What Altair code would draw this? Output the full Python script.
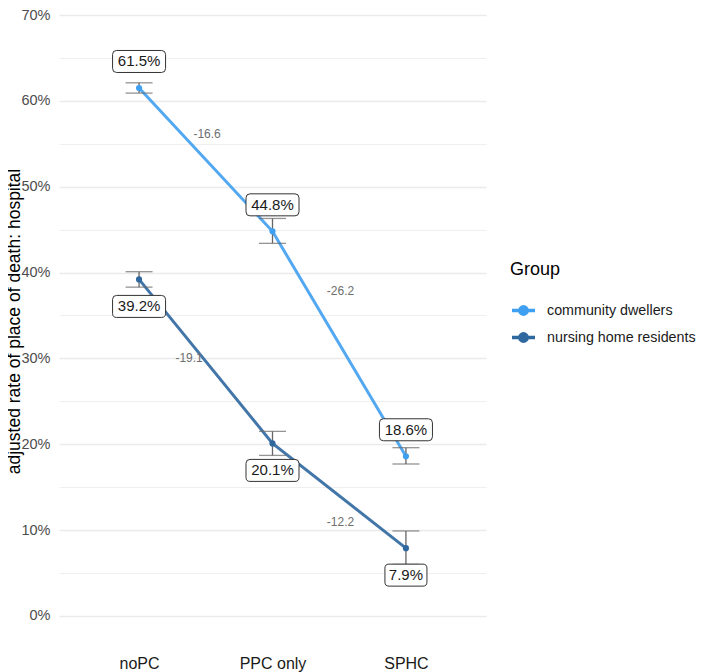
import altair as alt
import pandas as pd

# ---------------- data ----------------
stages = ["noPC", "PPC only", "SPHC"]
groups = ["community dwellers", "nursing home residents"]

community_rate = [61.5, 44.8, 18.6]
community_lo = [60.9, 43.4, 17.7]
community_hi = [62.1, 46.3, 19.6]

nursing_rate = [39.2, 20.1, 7.9]
nursing_lo = [38.3, 18.7, 6.0]
nursing_hi = [40.1, 21.5, 9.9]

label_side = ["above", "below"]  # value label placement per group

diff_stage = ["noPC", "PPC only", "noPC", "PPC only"]
diff_group = [groups[0], groups[0], groups[1], groups[1]]
diff_text = ["-16.6", "-26.2", "-19.1", "-12.2"]
diff_label_y = [56.1, 37.9, 30.0, 10.9]

colors = ["#3F9FF0", "#2F679F"]

# ---------------- tables ----------------
rows = []
for g, rate, lo, hi, side in [
    (groups[0], community_rate, community_lo, community_hi, label_side[0]),
    (groups[1], nursing_rate, nursing_lo, nursing_hi, label_side[1]),
]:
    for s, r, l, h in zip(stages, rate, lo, hi):
        lab = f"{r:.1f}%"
        rows.append(dict(stage=s, group=g, rate=r, lo=l, hi=h, side=side,
                         label=lab, box=f"{side}{len(lab)}"))
df = pd.DataFrame(rows)

ddf = pd.DataFrame(dict(stage=diff_stage, group=diff_group, text=diff_text, ypos=diff_label_y))

# ---------------- styling helpers ----------------
UNIT = 26.5  # symbol unit (px) => size = (2*UNIT)^2


def box_path(w_px, dy_px, h_px=22, r_px=4, unit=UNIT):
    hw = w_px / 2 / unit
    hh = h_px / 2 / unit
    r = r_px / unit
    c = dy_px / unit
    top, bot = c - hh, c + hh
    return (f"M{-hw + r:.4f},{top:.4f}H{hw - r:.4f}Q{hw:.4f},{top:.4f} {hw:.4f},{top + r:.4f}"
            f"V{bot - r:.4f}Q{hw:.4f},{bot:.4f} {hw - r:.4f},{bot:.4f}"
            f"H{-hw + r:.4f}Q{-hw:.4f},{bot:.4f} {-hw:.4f},{bot - r:.4f}"
            f"V{top + r:.4f}Q{-hw:.4f},{top:.4f} {-hw + r:.4f},{top:.4f}Z")


DY_ABOVE, DY_BELOW = -26.5, 27
box_keys = ["above5", "above4", "below5", "below4"]
box_paths = [box_path(53, DY_ABOVE), box_path(42, DY_ABOVE),
             box_path(53, DY_BELOW), box_path(42, DY_BELOW)]

legend_symbol = ("M-1,0H1M-0.32,0A0.32,0.32 0 1 0 0.32,0A0.32,0.32 0 1 0 -0.32,0Z")

FONT = "Liberation Sans"

xenc = alt.X("stage:N", sort=stages,
             scale=alt.Scale(type="point", padding=0.6),
             axis=alt.Axis(title=None, labelAngle=0, labelFontSize=16, labelColor="#1a1a1a",
                           ticks=False, tickSize=0, domain=False, grid=False, labelPadding=9,
                           labelFont=FONT))

yscale = alt.Scale(domain=[-3.5, 70], nice=False, zero=False)
yenc = alt.Y("rate:Q", scale=yscale,
             axis=alt.Axis(title="adjusted rate of place of death: hospital",
                           values=list(range(0, 75, 5)),
                           labelExpr="datum.value % 10 === 0 ? datum.value + '%' : ''",
                           labelFontSize=14.5, labelColor="#4d4d4d", labelPadding=9,
                           labelFont=FONT,
                           ticks=False, tickSize=0, domain=False,
                           gridColor="#ebebeb",
                           gridWidth={"condition": {"test": "datum.value % 10 === 0", "value": 1.5},
                                      "value": 0.8},
                           titleFontSize=17.5, titleFontWeight="normal", titleColor="#000000",
                           titleFont=FONT, titlePadding=-3, titleY=306))

color = alt.Color("group:N",
                  scale=alt.Scale(domain=groups, range=colors),
                  legend=alt.Legend(title="Group", orient="none", legendX=451, legendY=246,
                                    titleFontSize=18, titleFontWeight="normal", titleColor="#000000",
                                    titleFont=FONT, titlePadding=18,
                                    labelFontSize=14.3, labelColor="#1a1a1a", labelFont=FONT,
                                    labelOffset=10, rowPadding=2, labelLimit=400,
                                    symbolType=legend_symbol, symbolSize=529,
                                    symbolStrokeWidth=3.5, symbolOpacity=1))

base = alt.Chart(df)
xs = alt.X("stage:N", sort=stages)

lines = base.mark_line(strokeWidth=3, opacity=0.9).encode(x=xenc, y=yenc, color=color,
                                                          detail="group:N")
err = base.mark_rule(color="#666666", strokeWidth=1.3).encode(
    x=xs, y=alt.Y("lo:Q", scale=yscale), y2="hi:Q")
cap_lo = base.mark_tick(color="#666666", thickness=1.3, size=27, orient="horizontal").encode(
    x=xs, y=alt.Y("lo:Q", scale=yscale))
cap_hi = base.mark_tick(color="#666666", thickness=1.3, size=27, orient="horizontal").encode(
    x=xs, y=alt.Y("hi:Q", scale=yscale))
points = base.mark_circle(size=38, opacity=1).encode(
    x=xs, y=alt.Y("rate:Q", scale=yscale), color=color)

dbase = alt.Chart(ddf)
diffs_main = dbase.transform_filter(
    (alt.datum.group != groups[1]) | (alt.datum.stage != "noPC")
).mark_text(fontSize=12, color="#6e6e6e", dx=68, font=FONT).encode(
    x=xs, y=alt.Y("ypos:Q", scale=yscale), text="text:N")
diffs_left = dbase.transform_filter(
    (alt.datum.group == groups[1]) & (alt.datum.stage == "noPC")
).mark_text(fontSize=12, color="#6e6e6e", dx=50, font=FONT).encode(
    x=xs, y=alt.Y("ypos:Q", scale=yscale), text="text:N")

boxes = base.mark_point(filled=True, fill="#ffffff", stroke="#333333", strokeWidth=1,
                        opacity=1, fillOpacity=1, strokeOpacity=1, size=(2 * UNIT) ** 2).encode(
    x=xs, y=alt.Y("rate:Q", scale=yscale),
    shape=alt.Shape("box:N", scale=alt.Scale(domain=box_keys, range=box_paths), legend=None))

txt_above = base.transform_filter(alt.datum.side == "above").mark_text(
    fontSize=15, color="#1a1a1a", dy=DY_ABOVE, baseline="middle", font=FONT).encode(
    x=xs, y=alt.Y("rate:Q", scale=yscale), text="label:N")
txt_below = base.transform_filter(alt.datum.side == "below").mark_text(
    fontSize=15, color="#1a1a1a", dy=DY_BELOW, baseline="middle", font=FONT).encode(
    x=xs, y=alt.Y("rate:Q", scale=yscale), text="label:N")

chart = alt.layer(lines, err, cap_lo, cap_hi, points, diffs_main, diffs_left,
                  boxes, txt_above, txt_below).properties(
    width=427, height=631,
    padding={"left": 51, "top": 7, "right": 214, "bottom": 26},
    autosize=alt.AutoSizeParams(type="none"),
    background="#ffffff",
).configure(font=FONT).configure_view(stroke=None)

chart.save("out.html", embed_options={"renderer": "svg", "actions": False})
